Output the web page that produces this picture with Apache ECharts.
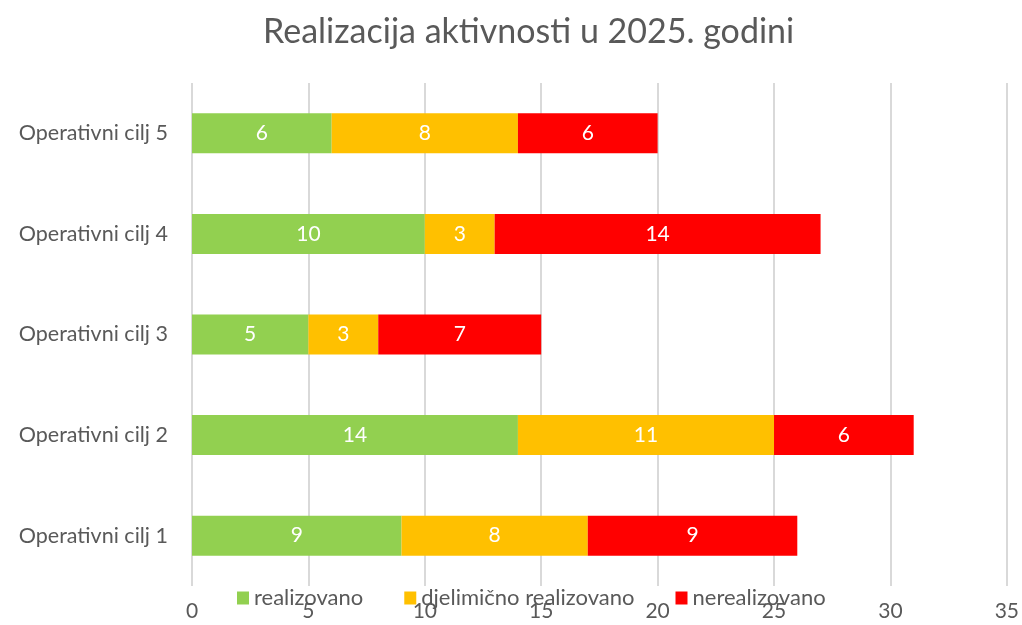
<!DOCTYPE html>
<html>
	<head>
		<meta charset="utf-8" />
		<title>Realizacija aktivnosti</title>
		<script src="https://cdn.jsdelivr.net/npm/echarts@6/dist/echarts.min.js"></script>
		<style>
			html, body { margin: 0; padding: 0; background: #fff; }
			#main { width: 1022px; height: 625px; }
		</style>
	</head>
	<body>
		<div id="main"></div>
		<script type="text/javascript">
			// podaci
			var categories = ['Operativni cilj 1', 'Operativni cilj 2', 'Operativni cilj 3', 'Operativni cilj 4', 'Operativni cilj 5'];
			var realizovano = [9, 14, 5, 10, 6];
			var djelimicno = [8, 11, 3, 3, 8];
			var nerealizovano = [9, 6, 7, 14, 6];
			var seriesNames = ['realizovano', 'djelimično realizovano', 'nerealizovano'];
			var colors = ['#92d050', '#ffc000', '#ff0000'];

			var fontFam = 'Lato, "Open Sans", sans-serif';
			var myChart = echarts.init(document.getElementById('main'));

			function makeSeries(name, data, color) {
				return {
					name: name,
					type: 'bar',
					stack: 'ukupno',
					barWidth: 40,
					data: data,
					itemStyle: { color: color },
					label: {
						show: true,
						position: 'inside',
						color: '#fff',
						fontSize: 21,
						fontFamily: fontFam
					}
				};
			}

			var option = {
				animation: false,
				title: {
					text: 'Realizacija aktivnosti u 2025. godini',
					left: 258,
					top: 10,
					textStyle: { color: '#595959', fontSize: 34, fontWeight: 'normal', fontFamily: fontFam }
				},
				legend: {
					data: seriesNames,
					left: 232,
					top: 582,
					itemWidth: 12,
					itemHeight: 13,
					itemGap: 41,
					icon: 'rect',
					textStyle: { color: '#595959', fontSize: 22, fontFamily: fontFam }
				},
				grid: { left: 192, right: 14, top: 83, bottom: 39 },
				xAxis: {
					type: 'value',
					min: 0,
					max: 35,
					interval: 5,
					axisLine: { show: false },
					axisTick: { show: false },
					splitLine: { lineStyle: { color: '#d9d9d9', width: 2 } },
					axisLabel: { color: '#595959', fontSize: 21, fontFamily: fontFam, margin: 15 }
				},
				yAxis: {
					type: 'category',
					data: categories,
					axisLine: { show: false },
					axisTick: { show: false },
					axisLabel: { color: '#595959', fontSize: 21.5, fontFamily: fontFam, margin: 24 }
				},
				series: [
					makeSeries(seriesNames[0], realizovano, colors[0]),
					makeSeries(seriesNames[1], djelimicno, colors[1]),
					makeSeries(seriesNames[2], nerealizovano, colors[2])
				]
			};

			myChart.setOption(option);
		</script>
	</body>
</html>
